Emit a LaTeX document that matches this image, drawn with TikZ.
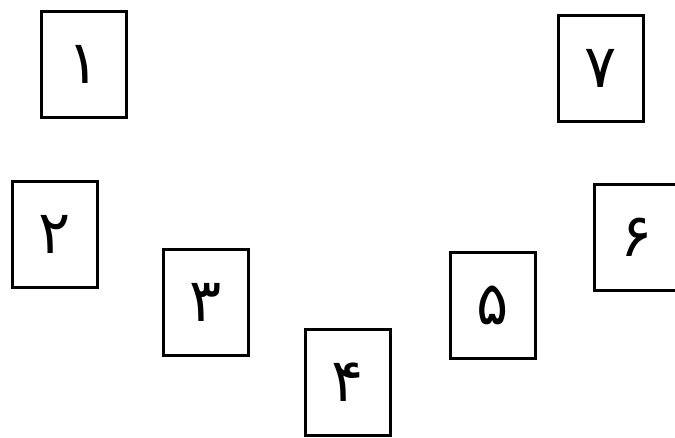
\documentclass[tikz,border=0pt]{standalone}
\usepackage{fontspec}
\newfontfamily\arabicfont[Script=Arabic]{DejaVu Sans}
\begin{document}
\begin{tikzpicture}[x=1pt,y=-1pt,
  card/.style={draw=black,line width=3pt,fill=white,minimum width=85pt,minimum height=106pt,inner sep=0pt,
    font=\arabicfont\fontsize{60}{60}\selectfont}]
\useasboundingbox (0,0) rectangle (675,437);
\clip (0,0) rectangle (675,437);
\node[card] (n1) at (83.5,64) {۱};
\node[card] (n2) at (54.5,234) {۲};
\node[card] (n3) at (205.5,302) {۳};
\node[card] (n4) at (348,382) {۴};
\node[card] (n5) at (493,305.5) {۵};
\node[card] (n6) at (636.5,237.5) {۶};
\node[card] (n7) at (600.5,68) {۷};
\end{tikzpicture}
\end{document}
